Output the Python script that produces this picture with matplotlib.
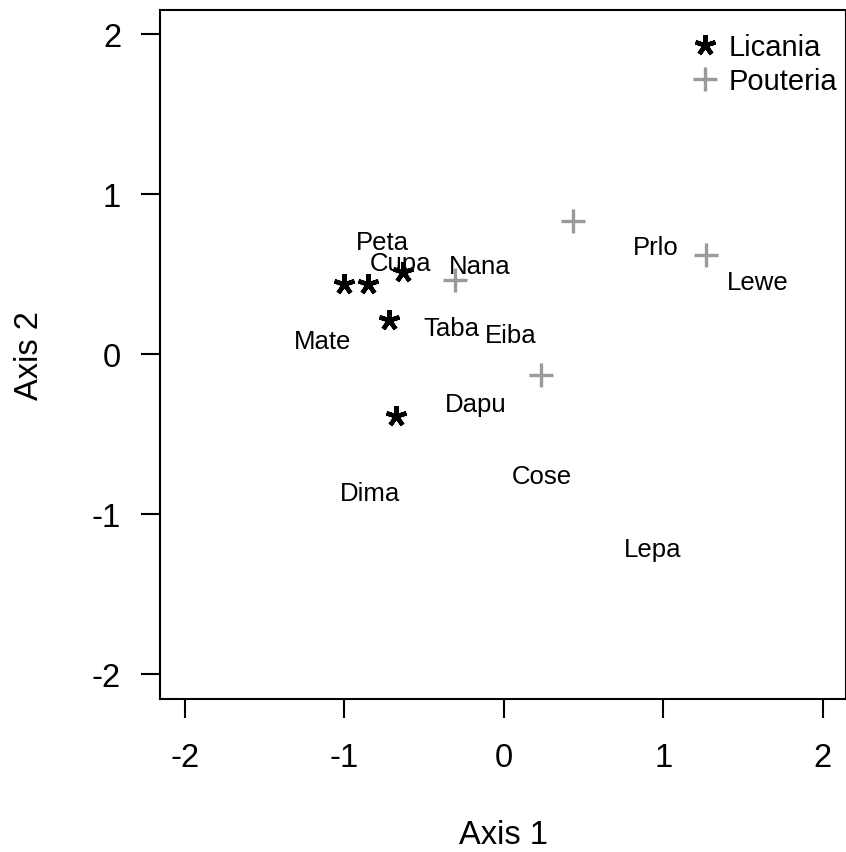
import matplotlib
matplotlib.use("Agg")
import matplotlib.pyplot as plt

plt.rcParams['font.family'] = ['Liberation Sans', 'DejaVu Sans']

# --------------------------------------------------
# Data (ordination scores)
# --------------------------------------------------
licania_x = [-1.00, -0.85, -0.63, -0.72, -0.68]
licania_y = [0.44, 0.44, 0.51, 0.21, -0.39]

pouteria_x = [-0.31, 0.43, 1.27, 0.23]
pouteria_y = [0.46, 0.83, 0.62, -0.13]

species = ["Peta", "Cupa", "Nana", "Mate", "Taba", "Eiba", "Prlo", "Lewe",
           "Dapu", "Cose", "Dima", "Lepa"]
species_x = [-0.76, -0.65, -0.15, -1.14, -0.33, 0.04, 0.95, 1.59,
             -0.18, 0.24, -0.84, 0.93]
species_y = [0.70, 0.57, 0.55, 0.08, 0.16, 0.12, 0.67, 0.45,
             -0.31, -0.76, -0.87, -1.22]

ticks = [-2, -1, 0, 1, 2]

# --------------------------------------------------
# Plot
# --------------------------------------------------
fig = plt.figure(figsize=(8.46, 8.53), dpi=100)
ax = fig.add_axes([160 / 846, 1 - 700 / 853, 686 / 846, 689 / 853])

ax.plot(licania_x, licania_y, linestyle='none', marker=(5, 2, 0),
        markersize=15, markeredgewidth=3.2, color='black', label='Licania')
ax.plot(pouteria_x, pouteria_y, linestyle='none', marker='+',
        markersize=17, markeredgewidth=2.4, color='#9a9a9a', label='Pouteria')

for name, x, y in zip(species, species_x, species_y):
    ax.text(x, y, name, fontsize=18.5, ha='center', va='center')

ax.set_xlim(-2.157, 2.145)
ax.set_ylim(-2.156, 2.15)
ax.set_xticks(ticks)
ax.set_yticks(ticks)
ax.set_xticklabels([str(t) for t in ticks])
ax.set_yticklabels([str(t) for t in ticks])
ax.tick_params(axis='both', length=14, width=1.5, labelsize=23.5, direction='out')
ax.tick_params(axis='x', pad=17)
ax.tick_params(axis='y', pad=14)
for spine in ax.spines.values():
    spine.set_linewidth(1.5)

ax.set_xlabel("Axis 1", fontsize=23.5, labelpad=33)
ax.set_ylabel("Axis 2", fontsize=23.5, labelpad=34)

ax.legend(loc='upper right', frameon=False, fontsize=21, handletextpad=0.2,
          borderaxespad=0, labelspacing=0.2, handlelength=1.2,
          bbox_to_anchor=(1.004, 0.983))

plt.savefig("out.png", dpi=100)
